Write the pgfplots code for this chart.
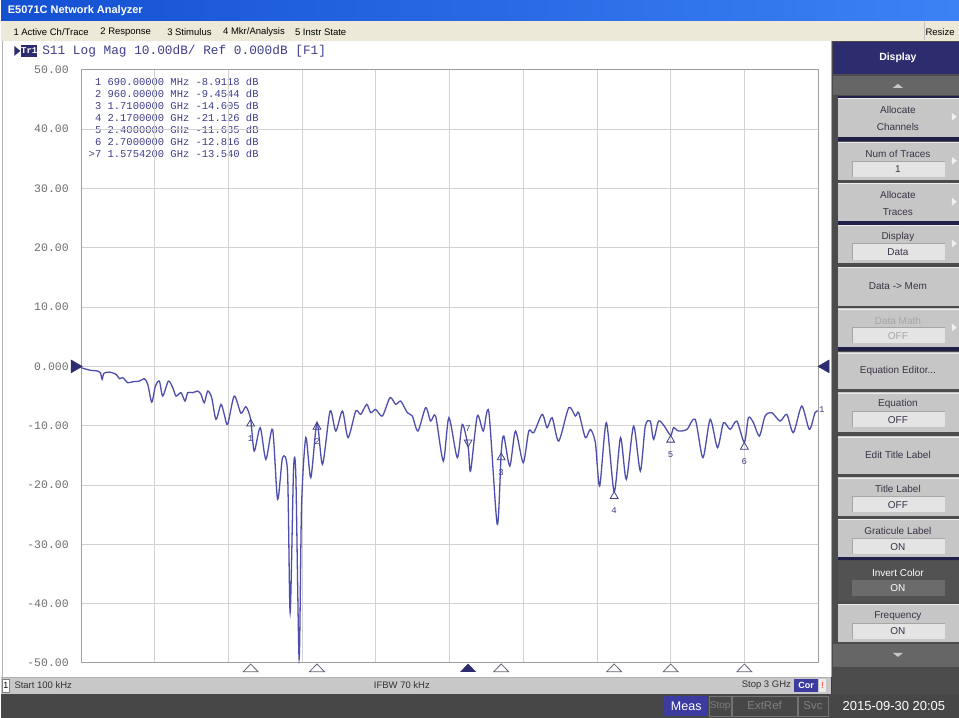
\documentclass[border=0pt]{standalone}
\usepackage{pgfplots}
\pgfplotsset{compat=1.18}
\usepackage{fontspec}
\setmainfont{Liberation Sans}
\newfontfamily\mono{Liberation Mono}
\definecolor{tracec}{RGB}{78,78,172}
\definecolor{navytext}{RGB}{62,62,140}
\definecolor{gridc}{RGB}{210,210,210}
\definecolor{menubg}{RGB}{236,233,216}
\definecolor{barbg}{RGB}{200,200,200}
\definecolor{panelbg}{RGB}{60,60,60}
\definecolor{btnbg}{RGB}{198,198,198}
\definecolor{btnbox}{RGB}{228,228,228}
\definecolor{btntext}{RGB}{58,50,70}
\definecolor{hdrnavy}{RGB}{44,44,110}
\definecolor{sepnavy}{RGB}{32,32,72}
\definecolor{marktri}{RGB}{100,100,120}
\definecolor{titleL}{RGB}{20,80,210}
\definecolor{titleR}{RGB}{60,130,245}
\definecolor{ticklab}{RGB}{110,110,110}
\definecolor{measblue}{RGB}{60,60,160}
\newcommand\fs[1]{\fontsize{#1}{#1}\selectfont}
\newcommand\btntwo[4]{% y1 y2 line1 line2
  \fill[btnbg] (838,#1) rectangle (959,#2);
  \draw[white!85!gray] (838,#1+0.5) -- (959,#1+0.5);
  \node[text=btntext,font=\fs{10}] at (898,#1+12) {#3};
  \node[text=btntext,font=\fs{10}] at (898,#1+29) {#4};}
\newcommand\btnbox[5]{% y1 y2 line1 boxtext textcolor
  \fill[btnbg] (838,#1) rectangle (959,#2);
  \draw[white!85!gray] (838,#1+0.5) -- (959,#1+0.5);
  \node[text=#5,font=\fs{10}] at (898,#1+12) {#3};
  \fill[btnbox] (852,#1+19) rectangle (945,#1+35);
  \draw[gray!70] (852,#1+35) -- (852,#1+19) -- (945,#1+19);
  \node[text=#5,font=\fs{10}] at (898,#1+27.5) {#4};}
\newcommand\btnone[3]{% y1 y2 text
  \fill[btnbg] (838,#1) rectangle (959,#2);
  \draw[white!85!gray] (838,#1+0.5) -- (959,#1+0.5);
  \node[text=btntext,font=\fs{10}] at (898,{(#1+#2)/2}) {#3};}
\newcommand\arr[1]{\fill[white!88!gray] (952,#1-4) -- (957,#1) -- (952,#1+4) -- cycle;}
\begin{document}
\begin{tikzpicture}
\begin{scope}[x=1pt,y=1pt]
\fill[panelbg] (0,0) rectangle (959,719);
\end{scope}
\begin{scope}[x=1pt,y=1pt,shift={(0,719)},yscale=-1]
  % title bar
  \shade[left color=titleL,right color=titleR] (0,0) rectangle (959,21);
  \node[anchor=west,text=white,font=\bfseries\fs{11}] at (3,11) {E5071C Network Analyzer};
  % menu bar
  \fill[menubg] (0,21) rectangle (959,41);
  \node[anchor=west,inner sep=0pt,font=\fs{9.5}] at (12,32) {1 Active Ch/Trace};
  \node[anchor=west,inner sep=0pt,font=\fs{9.5}] at (99,32) {2 Response};
  \node[anchor=west,inner sep=0pt,font=\fs{9.5}] at (166,32) {3 Stimulus};
  \node[anchor=west,inner sep=0pt,font=\fs{9.5}] at (222,32) {4 Mkr/Analysis};
  \node[anchor=west,inner sep=0pt,font=\fs{9.5}] at (294,32) {5 Instr State};
  \node[anchor=east,inner sep=0pt,font=\fs{9.5}] at (955,32) {Resize};
  \draw[gray!50] (924,22) -- (924,40);
  % chart window
  \fill[white] (0,41) rectangle (831,678);
  \draw[gray!60] (1,41) -- (1,678);
  \draw[gray!70] (831,41) -- (831,678);
  % trace header
  \fill[hdrnavy] (13,46) -- (19,51) -- (13,56) -- cycle;
  \fill[hdrnavy] (20,45) rectangle (36,57);
  \node[text=white,font=\mono\bfseries\fs{9}] at (28,51) {Tr1};
  \node[anchor=west,text=navytext,font=\mono\fs{12.8}] at (37.5,51) {S11 Log Mag 10.00dB/ Ref 0.000dB [F1]};
  % marker table
  \node[anchor=west,text=navytext,font=\mono\fs{10.5}] at (84,82) {\phantom{>}1 690.00000 MHz -8.9118 dB};
  \node[anchor=west,text=navytext,font=\mono\fs{10.5}] at (84,94) {\phantom{>}2 960.00000 MHz -9.4544 dB};
  \node[anchor=west,text=navytext,font=\mono\fs{10.5}] at (84,106) {\phantom{>}3 1.7100000 GHz -14.605 dB};
  \node[anchor=west,text=navytext,font=\mono\fs{10.5}] at (84,118) {\phantom{>}4 2.1700000 GHz -21.126 dB};
  \node[anchor=west,text=navytext,font=\mono\fs{10.5}] at (84,130) {\phantom{>}5 2.4000000 GHz -11.635 dB};
  \node[anchor=west,text=navytext,font=\mono\fs{10.5}] at (84,142) {\phantom{>}6 2.7000000 GHz -12.816 dB};
  \node[anchor=west,text=navytext,font=\mono\fs{10.5}] at (84,154) {>7 1.5754200 GHz -13.540 dB};
  % lower info bar
  \fill[barbg] (0,678) rectangle (831,695);
  \draw[gray!60] (0,678) -- (831,678);
  \fill[white] (1,680) rectangle (8,693);
  \draw[gray] (1,680) rectangle (8,693);
  \node[font=\fs{9}] at (4.5,686.5) {1};
  \node[anchor=west,inner sep=0pt,font=\fs{9.5},text=black!80] at (13,686.5) {Start 100 kHz};
  \node[anchor=west,inner sep=0pt,font=\fs{9.5},text=black!80] at (373,686.5) {IFBW 70 kHz};
  \node[anchor=east,inner sep=0pt,font=\fs{9.5},text=black!80] at (791,686.5) {Stop 3 GHz};
  \fill[measblue] (794,680) rectangle (818,693);
  \node[text=white,font=\bfseries\fs{9}] at (806,686.5) {Cor};
  \fill[white!85!gray] (819,680) rectangle (826,693);
  \node[text=red!60!white,font=\bfseries\fs{9}] at (822.5,686.5) {!};
  % status bar
  \fill[black!72] (0,695) rectangle (959,719);
  \fill[measblue] (664,697) rectangle (708,717);
  \node[text=white,font=\fs{12.5}] at (686,707) {Meas};
  \draw[black!55] (709,697) rectangle (731,717);
  \node[inner sep=0pt,text=black!50,font=\fs{10}] at (720,707) {Stop};
  \draw[black!55] (732,697) rectangle (797,717);
  \node[text=black!50,font=\fs{11.5}] at (764.5,707) {ExtRef};
  \draw[black!55] (798,697) rectangle (828,717);
  \node[text=black!50,font=\fs{11.5}] at (813,707) {Svc};
  \node[text=white,font=\fs{13}] at (894,707) {2015-09-30 20:05};
  % right softkey panel
  \fill[black!70] (832,41) rectangle (959,695);
  \fill[hdrnavy] (833,42) rectangle (959,74);
  \node[text=white,font=\bfseries\fs{10.5}] at (898,58) {Display};
  \fill[gray!80!black] (833,76) rectangle (959,95);
  \fill[gray!45] (893,88) -- (898,84) -- (903,88) -- cycle;
  \fill[sepnavy] (838,96) rectangle (959,98);
  \btntwo{98}{137}{Allocate}{Channels}\arr{117}
  \fill[sepnavy] (838,137) rectangle (959,141);
  \btnbox{142}{180}{Num of Traces}{1}{btntext}\arr{161}
  \btntwo{183}{221}{Allocate}{Traces}\arr{202}
  \fill[sepnavy] (838,221) rectangle (959,225);
  \btnbox{225}{263}{Display}{Data}{btntext}\arr{244}
  \btnone{267}{307}{Data -> Mem}
  \btnbox{309}{348}{Data Math}{OFF}{gray!70}\arr{328}
  \fill[sepnavy] (838,348) rectangle (959,352);
  \btnone{353}{390}{Equation Editor...}
  \btnbox{393}{433}{Equation}{OFF}{btntext}
  \btnone{437}{475}{Edit Title Label}
  \btnbox{478}{517}{Title Label}{OFF}{btntext}
  \btnbox{520}{558}{Graticule Label}{ON}{btntext}
  \fill[sepnavy] (838,558) rectangle (959,561);
  \fill[black!68] (838,562) rectangle (959,602);
  \node[text=white,font=\fs{10}] at (898,574) {Invert Color};
  \fill[black!58] (852,581) rectangle (945,597);
  \node[text=white,font=\fs{10}] at (898,589.5) {ON};
  \btnbox{605}{643}{Frequency}{ON}{btntext}
  \fill[gray!80!black] (833,645) rectangle (959,668);
  \fill[gray!45] (893,654) -- (898,658) -- (903,654) -- cycle;
\end{scope}

\begin{axis}[
  at={(80pt,55pt)}, anchor=south west,
  scale only axis, width=738pt, height=594pt,
  xmin=0.1, xmax=3000, ymin=-50, ymax=50,
  xtick={300,600,...,2700}, xticklabels={},
  ytick={-50,-40,...,50},
  yticklabels={-50.00,-40.00,-30.00,-20.00,-10.00,0.000,10.00,20.00,30.00,40.00,50.00},
  yticklabel style={font=\mono\fs{11.5}, text=ticklab, xshift=-9pt},
  grid=major, major grid style={gridc, line width=0.9pt},
  axis line style={draw=gray!75, line width=0.9pt},
  major tick length=0pt,
  clip=false,
]
\addplot[tracec, line width=1.3pt, smooth, tension=0.45] table {
0.1 -0.22
33.7 -0.62
67.9 -0.79
78.5 -1.06
85.4 -2.19
92.3 -1.18
115.0 -0.96
142.3 -1.35
155.7 -2.07
169.5 -1.90
189.8 -2.75
210.2 -2.58
237.0 -2.48
257.3 -2.07
271.1 -3.03
287.4 -6.02
302.0 -3.32
318.3 -2.48
332.1 -5.00
354.9 -2.48
372.8 -3.59
386.2 -5.00
406.5 -4.43
422.8 -5.85
433.7 -4.43
454.1 -4.43
474.4 -4.16
487.8 -4.72
501.2 -6.12
515.0 -4.16
531.3 -5.27
548.8 -8.93
569.1 -6.40
582.5 -8.09
596.4 -9.77
623.2 -5.00
650.4 -7.90
670.7 -6.80
690.0 -8.91
704.5 -14.27
728.9 -10.33
752.0 -15.67
779.3 -10.62
799.6 -22.41
819.9 -15.38
840.2 -17.91
850.8 -41.50
864.6 -17.35
874.0 -18.48
887.4 -49.37
897.2 -23.54
914.6 -12.01
934.9 -18.75
960.0 -9.45
982.5 -16.51
1013.4 -7.53
1036.6 -10.90
1063.8 -7.53
1086.6 -12.01
1117.9 -7.53
1138.2 -8.09
1162.6 -6.40
1178.9 -7.80
1199.2 -7.25
1226.4 -8.37
1257.3 -5.27
1280.5 -6.40
1300.8 -5.85
1328.0 -7.80
1348.4 -8.37
1371.1 -10.90
1402.4 -6.96
1422.8 -9.22
1443.1 -8.37
1474.4 -15.96
1497.2 -8.64
1531.3 -15.38
1551.6 -9.77
1575.42 -13.54
1585.4 -17.64
1612.6 -8.37
1637.0 -10.90
1659.8 -7.70
1693.9 -26.62
1710.0 -14.61
1720.7 -11.74
1745.1 -16.80
1768.3 -10.90
1799.6 -16.23
1822.4 -10.90
1842.7 -11.17
1876.8 -8.09
1897.1 -10.33
1917.5 -8.64
1944.3 -12.59
1984.9 -6.96
2012.2 -8.37
2025.6 -7.80
2052.8 -12.01
2073.2 -10.62
2093.5 -12.86
2111.0 -20.17
2138.2 -9.49
2170.0 -21.13
2195.9 -12.01
2219.5 -19.04
2249.2 -10.06
2276.4 -17.64
2296.7 -10.06
2317.1 -9.22
2330.5 -12.30
2350.8 -9.22
2374.0 -10.06
2400.0 -11.64
2411.8 -10.33
2432.2 -10.90
2466.3 -10.62
2500.0 -8.93
2531.3 -15.38
2561.0 -8.93
2590.7 -13.70
2615.1 -9.49
2642.3 -10.62
2669.5 -9.22
2700.0 -12.82
2716.6 -8.64
2737.0 -9.49
2761.4 -11.74
2784.5 -8.37
2811.8 -7.80
2845.5 -9.22
2872.8 -8.09
2899.6 -11.17
2933.7 -6.69
2964.6 -10.62
2987.8 -7.80
3000.0 -7.53
};
% markers on trace
\addplot[only marks, navytext, mark=triangle, mark size=4.5pt, line width=0.8pt,
  mark options={yshift=-4.5pt},
  point meta=explicit symbolic, nodes near coords,
  nodes near coords style={font=\mono\fs{9}, text=navytext, anchor=north, yshift=-8pt}]
  coordinates {(690,-8.9118) [1] (960,-9.4544) [2] (1710,-14.605) [3] (2170,-21.126) [4] (2400,-11.635) [5] (2700,-12.816) [6]};
\addplot[only marks, navytext, mark=triangle, mark size=4.5pt, line width=0.8pt,
  mark options={yshift=4.5pt, rotate=180},
  point meta=explicit symbolic, nodes near coords,
  nodes near coords style={font=\mono\fs{9}, text=navytext, anchor=south, yshift=7pt}]
  coordinates {(1575.42,-13.54) [7]};
% marker position triangles below the grid
\addplot[only marks, marktri, mark=triangle, mark size=8.66pt, line width=0.8pt, mark options={yscale=0.6}]
  coordinates {(690,-51.05) (960,-51.05) (1710,-51.05) (2170,-51.05) (2400,-51.05) (2700,-51.05)};
\addplot[only marks, hdrnavy, mark=triangle*, mark size=8.66pt, mark options={yscale=0.6}]
  coordinates {(1575.42,-51.05)};
% reference level triangles
\addplot[only marks, hdrnavy, mark=triangle*, mark size=7.5pt, mark options={rotate=-90}]
  coordinates {(-26,0)};
\addplot[only marks, hdrnavy, mark=triangle*, mark size=7.5pt, mark options={rotate=90}]
  coordinates {(3030,0)};
\node[anchor=west, text=navytext, font=\mono\fs{9}, inner sep=1pt] at (axis cs:3000,-7.2) {1};
\end{axis}
\end{tikzpicture}
\end{document}
